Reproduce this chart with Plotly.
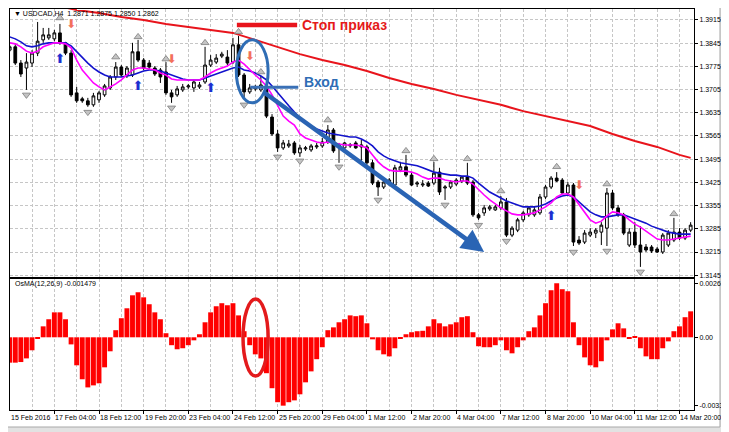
import plotly.graph_objects as go

# ---------------- data ----------------
open_ = [1.3824, 1.3834, 1.3785, 1.3770, 1.3785, 1.3815, 1.3855, 1.3861, 1.3858, 1.3876,
         1.3846, 1.3815, 1.3695, 1.3677, 1.3671, 1.3659, 1.3674, 1.3689, 1.3710, 1.3743,
         1.3773, 1.3749, 1.3749, 1.3819, 1.3794, 1.3785, 1.3770, 1.3764, 1.3758, 1.3695,
         1.3689, 1.3704, 1.3713, 1.3710, 1.3713, 1.3728, 1.3779, 1.3788, 1.3806, 1.3803,
         1.3788, 1.3840, 1.3749, 1.3698, 1.3707, 1.3704, 1.3716, 1.3622, 1.3571, 1.3529,
         1.3535, 1.3544, 1.3514, 1.3526, 1.3523, 1.3532, 1.3535, 1.3547, 1.3583, 1.3532,
         1.3529, 1.3535, 1.3544, 1.3532, 1.3532, 1.3484, 1.3426, 1.3411, 1.3420, 1.3417,
         1.3462, 1.3472, 1.3447, 1.3420, 1.3417, 1.3423, 1.3423, 1.3456, 1.3408, 1.3411,
         1.3420, 1.3429, 1.3441, 1.3426, 1.3327, 1.3333, 1.3345, 1.3342, 1.3348, 1.3366,
         1.3266, 1.3281, 1.3312, 1.3327, 1.3327, 1.3333, 1.3381, 1.3411, 1.3438, 1.3432,
         1.3393, 1.3417, 1.3251, 1.3245, 1.3266, 1.3272, 1.3275, 1.3287, 1.3393, 1.3348,
         1.3327, 1.3236, 1.3275, 1.3236, 1.3230, 1.3230, 1.3224, 1.3215, 1.3236, 1.3251,
         1.3275, 1.3257, 1.3281]
high = [1.3840, 1.3843, 1.3794, 1.3815, 1.3824, 1.3909, 1.3891, 1.3891, 1.3885, 1.3903,
        1.3849, 1.3824, 1.3713, 1.3683, 1.3680, 1.3695, 1.3701, 1.3722, 1.3749, 1.3788,
        1.3779, 1.3776, 1.3846, 1.3855, 1.3800, 1.3794, 1.3776, 1.3770, 1.3788, 1.3704,
        1.3716, 1.3722, 1.3722, 1.3734, 1.3728, 1.3834, 1.3809, 1.3812, 1.3819, 1.3824,
        1.3861, 1.3867, 1.3755, 1.3722, 1.3719, 1.3746, 1.3722, 1.3631, 1.3583, 1.3553,
        1.3553, 1.3550, 1.3538, 1.3535, 1.3541, 1.3544, 1.3559, 1.3598, 1.3589, 1.3544,
        1.3547, 1.3544, 1.3550, 1.3553, 1.3538, 1.3493, 1.3432, 1.3432, 1.3438, 1.3478,
        1.3487, 1.3508, 1.3456, 1.3429, 1.3432, 1.3429, 1.3487, 1.3469, 1.3417, 1.3432,
        1.3438, 1.3444, 1.3484, 1.3432, 1.3333, 1.3357, 1.3357, 1.3357, 1.3384, 1.3378,
        1.3293, 1.3318, 1.3339, 1.3354, 1.3354, 1.3390, 1.3417, 1.3444, 1.3456, 1.3438,
        1.3426, 1.3423, 1.3263, 1.3281, 1.3287, 1.3287, 1.3305, 1.3408, 1.3402, 1.3357,
        1.3333, 1.3287, 1.3305, 1.3293, 1.3239, 1.3236, 1.3230, 1.3272, 1.3281, 1.3318,
        1.3287, 1.3287, 1.3305]
low = [1.3819, 1.3779, 1.3743, 1.3704, 1.3773, 1.3806, 1.3846, 1.3855, 1.3851, 1.3840,
       1.3809, 1.3683, 1.3665, 1.3665, 1.3653, 1.3653, 1.3665, 1.3683, 1.3704, 1.3734,
       1.3743, 1.3740, 1.3743, 1.3788, 1.3764, 1.3764, 1.3746, 1.3725, 1.3689, 1.3665,
       1.3683, 1.3698, 1.3707, 1.3698, 1.3707, 1.3722, 1.3773, 1.3782, 1.3800, 1.3779,
       1.3782, 1.3743, 1.3680, 1.3692, 1.3701, 1.3698, 1.3619, 1.3565, 1.3517, 1.3523,
       1.3529, 1.3508, 1.3502, 1.3520, 1.3517, 1.3526, 1.3529, 1.3541, 1.3514, 1.3484,
       1.3523, 1.3529, 1.3526, 1.3490, 1.3478, 1.3417, 1.3384, 1.3405, 1.3414, 1.3411,
       1.3456, 1.3441, 1.3414, 1.3411, 1.3411, 1.3411, 1.3417, 1.3387, 1.3372, 1.3405,
       1.3414, 1.3423, 1.3417, 1.3321, 1.3312, 1.3324, 1.3339, 1.3339, 1.3342, 1.3260,
       1.3260, 1.3275, 1.3305, 1.3321, 1.3321, 1.3327, 1.3375, 1.3405, 1.3426, 1.3390,
       1.3387, 1.3233, 1.3236, 1.3239, 1.3260, 1.3257, 1.3236, 1.3233, 1.3342, 1.3321,
       1.3266, 1.3230, 1.3227, 1.3170, 1.3215, 1.3212, 1.3212, 1.3209, 1.3230, 1.3245,
       1.3251, 1.3251, 1.3275]
close = [1.3834, 1.3785, 1.3752, 1.3788, 1.3815, 1.3851, 1.3870, 1.3870, 1.3876, 1.3846,
         1.3815, 1.3689, 1.3671, 1.3671, 1.3659, 1.3686, 1.3695, 1.3716, 1.3743, 1.3773,
         1.3749, 1.3770, 1.3819, 1.3794, 1.3770, 1.3773, 1.3752, 1.3743, 1.3695, 1.3683,
         1.3707, 1.3713, 1.3716, 1.3728, 1.3719, 1.3779, 1.3794, 1.3800, 1.3812, 1.3785,
         1.3840, 1.3749, 1.3698, 1.3710, 1.3713, 1.3719, 1.3625, 1.3571, 1.3529, 1.3544,
         1.3541, 1.3514, 1.3529, 1.3529, 1.3535, 1.3535, 1.3547, 1.3583, 1.3520, 1.3538,
         1.3544, 1.3538, 1.3529, 1.3538, 1.3484, 1.3423, 1.3411, 1.3426, 1.3432, 1.3469,
         1.3472, 1.3447, 1.3417, 1.3423, 1.3420, 1.3414, 1.3453, 1.3396, 1.3411, 1.3426,
         1.3432, 1.3441, 1.3423, 1.3327, 1.3318, 1.3348, 1.3351, 1.3351, 1.3366, 1.3266,
         1.3287, 1.3312, 1.3333, 1.3348, 1.3342, 1.3381, 1.3411, 1.3438, 1.3429, 1.3393,
         1.3417, 1.3245, 1.3242, 1.3272, 1.3275, 1.3281, 1.3296, 1.3393, 1.3348, 1.3327,
         1.3272, 1.3275, 1.3236, 1.3215, 1.3221, 1.3218, 1.3215, 1.3266, 1.3272, 1.3275,
         1.3257, 1.3281, 1.3296]

ma_slow = [1.3864, 1.3858, 1.3849, 1.3837, 1.3834, 1.3837, 1.3843, 1.3846, 1.3846, 1.3846,
           1.3846, 1.3837, 1.3819, 1.3800, 1.3785, 1.3770, 1.3758, 1.3749, 1.3743, 1.3743,
           1.3743, 1.3746, 1.3749, 1.3755, 1.3761, 1.3764, 1.3764, 1.3761, 1.3755, 1.3749,
           1.3743, 1.3737, 1.3734, 1.3734, 1.3734, 1.3740, 1.3746, 1.3752, 1.3758, 1.3764,
           1.3770, 1.3773, 1.3764, 1.3761, 1.3755, 1.3746, 1.3734, 1.3716, 1.3695, 1.3674,
           1.3656, 1.3637, 1.3619, 1.3607, 1.3595, 1.3586, 1.3580, 1.3574, 1.3571, 1.3568,
           1.3565, 1.3562, 1.3562, 1.3556, 1.3547, 1.3535, 1.3517, 1.3505, 1.3496, 1.3490,
           1.3484, 1.3481, 1.3478, 1.3475, 1.3469, 1.3462, 1.3456, 1.3453, 1.3450, 1.3447,
           1.3447, 1.3444, 1.3444, 1.3438, 1.3423, 1.3408, 1.3396, 1.3387, 1.3378, 1.3369,
           1.3363, 1.3357, 1.3351, 1.3351, 1.3351, 1.3354, 1.3360, 1.3369, 1.3378, 1.3384,
           1.3387, 1.3381, 1.3366, 1.3351, 1.3336, 1.3327, 1.3321, 1.3321, 1.3324, 1.3327,
           1.3327, 1.3321, 1.3315, 1.3308, 1.3302, 1.3293, 1.3287, 1.3281, 1.3275, 1.3272,
           1.3269, 1.3269, 1.3269]
ma_fast = [1.3846, 1.3843, 1.3834, 1.3821, 1.3815, 1.3821, 1.3834, 1.3840, 1.3846, 1.3846,
           1.3843, 1.3831, 1.3794, 1.3764, 1.3743, 1.3725, 1.3713, 1.3704, 1.3713, 1.3722,
           1.3734, 1.3749, 1.3764, 1.3770, 1.3770, 1.3767, 1.3764, 1.3755, 1.3749, 1.3737,
           1.3734, 1.3734, 1.3734, 1.3734, 1.3734, 1.3743, 1.3755, 1.3764, 1.3770, 1.3776,
           1.3788, 1.3794, 1.3782, 1.3764, 1.3749, 1.3734, 1.3716, 1.3689, 1.3656, 1.3625,
           1.3610, 1.3598, 1.3571, 1.3559, 1.3553, 1.3547, 1.3544, 1.3547, 1.3544, 1.3541,
           1.3538, 1.3538, 1.3538, 1.3535, 1.3529, 1.3508, 1.3487, 1.3472, 1.3462, 1.3459,
           1.3459, 1.3459, 1.3456, 1.3450, 1.3441, 1.3435, 1.3438, 1.3438, 1.3432, 1.3429,
           1.3426, 1.3429, 1.3429, 1.3420, 1.3402, 1.3387, 1.3372, 1.3360, 1.3348, 1.3339,
           1.3330, 1.3327, 1.3327, 1.3330, 1.3333, 1.3342, 1.3351, 1.3363, 1.3381, 1.3390,
           1.3390, 1.3381, 1.3357, 1.3333, 1.3312, 1.3302, 1.3308, 1.3324, 1.3336, 1.3333,
           1.3327, 1.3312, 1.3299, 1.3290, 1.3278, 1.3266, 1.3254, 1.3251, 1.3251, 1.3254,
           1.3257, 1.3260, 1.3263]

ma_long_idx = [8, 12, 16, 20, 24, 28, 32, 36, 40, 44, 48, 52, 56, 60, 64, 68, 72, 76,
               80, 84, 88, 92, 96, 100, 104, 108, 112, 116, 120, 122]
ma_long = [1.3960, 1.3945, 1.3936, 1.3924, 1.3915, 1.3903, 1.3894, 1.3885, 1.3876, 1.3855,
           1.3834, 1.3812, 1.3794, 1.3779, 1.3761, 1.3740, 1.3722, 1.3707, 1.3689, 1.3674,
           1.3659, 1.3640, 1.3625, 1.3610, 1.3595, 1.3571, 1.3550, 1.3532, 1.3508, 1.3499]

osma = [-0.00125, -0.00125, -0.00122, -0.00104, -0.00064, -0.00005, 0.00054, 0.00089, 0.00123, 0.00123,
        0.00089, -0.00035, -0.00138, -0.00207, -0.00247, -0.00237, -0.00227, -0.00148, -0.00069, 0.00035,
        0.00094, 0.00143, 0.00207, 0.00222, 0.00197, 0.00163, 0.00123, 0.00089, 0.00020, -0.00039,
        -0.00059, -0.00054, -0.00039, -0.00015, 0.00015, 0.00074, 0.00123, 0.00153, 0.00168, 0.00158,
        0.00168, 0.00108, 0.00030, -0.00039, -0.00084, -0.00104, -0.00177, -0.00251, -0.00320, -0.00337,
        -0.00320, -0.00311, -0.00281, -0.00222, -0.00168, -0.00108, -0.00049, 0.00035, 0.00049, 0.00074,
        0.00089, 0.00108, 0.00104, 0.00108, 0.00069, -0.00010, -0.00064, -0.00084, -0.00094, -0.00054,
        -0.00005, 0.00015, 0.00025, 0.00030, 0.00032, 0.00054, 0.00089, 0.00069, 0.00054, 0.00064,
        0.00074, 0.00099, 0.00104, 0.00025, -0.00044, -0.00049, -0.00049, -0.00039, -0.00015, -0.00064,
        -0.00079, -0.00049, -0.00015, 0.00030, 0.00049, 0.00108, 0.00168, 0.00232, 0.002664, 0.00237,
        0.00227, 0.00074, -0.00039, -0.00099, -0.00138, -0.00148, -0.00118, -0.00015, 0.00039, 0.00069,
        0.00044, -0.00005, 0.00005, -0.00054, -0.00094, -0.00108, -0.00108, -0.00054, -0.00020, 0.00030,
        0.00054, 0.00099, 0.00128]

fractal_up_idx = [9, 19, 23, 28, 35, 41, 45, 57, 71, 76, 82, 88, 98, 107, 119]
fractal_up = [1.3921, 1.3803, 1.3864, 1.3797, 1.3846, 1.3879, 1.3758, 1.3613, 1.3520, 1.3496,
              1.3496, 1.3399, 1.3472, 1.3420, 1.3330]
fractal_dn_idx = [3, 14, 29, 42, 48, 52, 59, 66, 78, 84, 89, 101, 107, 113]
fractal_dn = [1.3689, 1.3637, 1.3650, 1.3659, 1.3502, 1.3490, 1.3472, 1.3372, 1.3357, 1.3296,
              1.3248, 1.3215, 1.3218, 1.3155]

sell_idx = [11, 29, 43, 102]
sell_level = [1.3900, 1.3794, 1.3803, 1.3414]
buy_idx = [9, 23, 36, 97]
buy_level = [1.3794, 1.3713, 1.3707, 1.3321]

price_ticks = [1.3915, 1.3845, 1.3775, 1.3705, 1.3635, 1.3565, 1.3495, 1.3425, 1.3355,
               1.3285, 1.3215, 1.3145]
osma_ticks = [0.002664, 0.0, -0.00337]
osma_ticktext = ["0.002664", "0.00", "-0.00337"]

x_labels = ["15 Feb 2016", "17 Feb 04:00", "18 Feb 12:00", "19 Feb 20:00", "23 Feb 04:00",
            "24 Feb 12:00", "25 Feb 20:00", "29 Feb 04:00", "1 Mar 12:00", "2 Mar 20:00",
            "4 Mar 04:00", "7 Mar 12:00", "8 Mar 20:00", "10 Mar 04:00", "11 Mar 12:00",
            "14 Mar 20:00"]
x_label_idx = list(range(0, 8 * len(x_labels), 8))

stop_level = 1.3900
entry_level = 1.3712
header_text = "▼ USDCAD,H4  1.2871 1.2875 1.2850 1.2862"
osma_title = "OsMA(12,26,9) -0.001479"

# ---------------- figure ----------------
idx = list(range(len(close)))
FONT = "Liberation Sans, Arial, sans-serif"
GRID = "#c6c6c6"
x_range = [0.054, 122.6]

fig = go.Figure()

fig.add_trace(go.Scatter(x=ma_long_idx, y=ma_long, mode="lines",
                         line=dict(color="#e8141c", width=2), hoverinfo="skip",
                         xaxis="x", yaxis="y"))
fig.add_trace(go.Candlestick(x=idx, open=open_, high=high, low=low, close=close,
                             increasing=dict(line=dict(color="#000000", width=1), fillcolor="#ffffff"),
                             decreasing=dict(line=dict(color="#000000", width=1), fillcolor="#000000"),
                             whiskerwidth=0, xaxis="x", yaxis="y"))
fig.add_trace(go.Scatter(x=list(range(len(ma_slow))), y=ma_slow, mode="lines",
                         line=dict(color="#1212cc", width=1.6), xaxis="x", yaxis="y"))
fig.add_trace(go.Scatter(x=list(range(len(ma_fast))), y=ma_fast, mode="lines",
                         line=dict(color="#ff00ff", width=1.6), xaxis="x", yaxis="y"))

fig.add_trace(go.Scatter(x=fractal_up_idx, y=fractal_up, mode="markers",
                         marker=dict(symbol="triangle-up", size=7, color="#c4c4c4",
                                     line=dict(color="#7c7c7c", width=0.8)),
                         xaxis="x", yaxis="y"))
fig.add_trace(go.Scatter(x=fractal_dn_idx, y=fractal_dn, mode="markers",
                         marker=dict(symbol="triangle-down", size=7, color="#c4c4c4",
                                     line=dict(color="#7c7c7c", width=0.8)),
                         xaxis="x", yaxis="y"))

fig.add_trace(go.Scatter(x=sell_idx, y=sell_level, mode="text", text=["⬇"] * len(sell_idx),
                         textfont=dict(family="DejaVu Sans", size=12, color="#f3705c"),
                         xaxis="x", yaxis="y"))
fig.add_trace(go.Scatter(x=buy_idx, y=buy_level, mode="text", text=["⬆"] * len(buy_idx),
                         textfont=dict(family="DejaVu Sans", size=13, color="#1c2fd0"),
                         xaxis="x", yaxis="y"))

fig.add_trace(go.Bar(x=list(range(len(osma))), y=osma,
                     marker=dict(color="#ff0000", line=dict(width=0)),
                     xaxis="x2", yaxis="y2"))

xcommon = dict(range=x_range, tickmode="array", tickvals=x_label_idx, showticklabels=False,
               showgrid=True, gridcolor=GRID, griddash="3px,2px", gridwidth=1,
               minor=dict(tickmode="array", tickvals=list(range(0, 124, 4)), showgrid=True,
                          gridcolor=GRID, griddash="3px,2px", gridwidth=1, ticks=""),
               showline=True, mirror=True, linecolor="#000000", linewidth=1, zeroline=False,
               fixedrange=True)

# the page shows the figure 8 px in from the window corner, so the figure is sized to fit
fig.update_layout(
    width=721, height=424,
    margin=dict(l=2, r=35, t=1, b=22),
    paper_bgcolor="#e2e2e2", plot_bgcolor="#ffffff",
    showlegend=False, bargap=0.12,
    font=dict(family=FONT, size=7, color="#000000"),
    xaxis=dict(domain=[0, 1], anchor="y", ticks="", rangeslider=dict(visible=False), **xcommon),
    yaxis=dict(domain=[0.3317, 1], anchor="x", side="right", range=[1.31396, 1.39481],
               tickmode="array", tickvals=price_ticks,
               ticktext=[f"{v:.4f}" for v in price_ticks],
               ticks="outside", ticklen=3, tickcolor="#000000",
               tickfont=dict(family=FONT, size=7, color="#000000"),
               showgrid=True, gridcolor=GRID, griddash="3px,2px", gridwidth=1,
               showline=True, mirror=True, linecolor="#000000", zeroline=False, fixedrange=True),
    xaxis2=dict(domain=[0, 1], anchor="y2", ticks="outside", ticklen=3, tickcolor="#000000",
                **xcommon),
    yaxis2=dict(domain=[0, 0.3267], anchor="x2", side="right", range=[-0.003584, 0.002874],
                tickmode="array", tickvals=osma_ticks, ticktext=osma_ticktext,
                ticks="outside", ticklen=3, tickcolor="#000000",
                tickfont=dict(family=FONT, size=7, color="#000000"),
                showgrid=False, showline=True, mirror=True, linecolor="#000000",
                zeroline=False, fixedrange=True),
)

shapes = [
    # window frame
    dict(type="rect", xref="paper", yref="paper", x0=-0.01, x1=1.038, y0=-0.0424, y1=1.01,
         fillcolor="#ffffff", line=dict(color="#a8a8a8", width=1), layer="below"),
    # stop order
    dict(type="line", xref="x", yref="y", x0=40.7, x1=51.5, y0=stop_level, y1=stop_level,
         line=dict(color="#e8141c", width=4.5)),
    # entry
    dict(type="line", xref="x", yref="y", x0=43.1, x1=51.7, y0=entry_level, y1=entry_level,
         line=dict(color="#3a70b6", width=3)),
    dict(type="circle", xref="x", yref="y", x0=40.6, x1=46.3, y0=1.3665, y1=1.3855,
         line=dict(color="#2f6db5", width=3)),
    # OsMA ellipse
    dict(type="circle", xref="x2", yref="y2", x0=41.8, x1=46.3, y0=-0.00191, y1=0.00189,
         line=dict(color="#e31a1c", width=3.5)),
]

annotations = [
    dict(text=header_text, xref="paper", yref="paper", x=0.003, y=0.9888, xanchor="left",
         yanchor="middle", showarrow=False, font=dict(family=FONT, size=7, color="#000000")),
    dict(text=osma_title, xref="paper", yref="paper", x=0.0044, y=0.313, xanchor="left",
         yanchor="middle", showarrow=False, font=dict(family=FONT, size=7, color="#000000")),
    dict(text="<b>Стоп приказ</b>", xref="x", yref="y", x=52.0, y=stop_level, xanchor="left",
         yanchor="middle", showarrow=False, font=dict(family=FONT, size=14, color="#e51a1a")),
    dict(text="<b>Вход</b>", xref="x", yref="y", x=52.3, y=1.3728, xanchor="left",
         yanchor="middle", showarrow=False, font=dict(family=FONT, size=14, color="#2f6db5")),
    dict(text="", xref="x", yref="y", x=85.0, y=1.3215, axref="x", ayref="y", ax=45.2,
         ay=1.3701, showarrow=True, arrowhead=2, arrowsize=1.0, arrowwidth=4.5,
         arrowcolor="#2a64b4"),
]
for lab, xi in zip(x_labels, x_label_idx):
    annotations.append(dict(text=lab, xref="x2", yref="paper", x=max(xi, 0.1), y=-0.01995,
                            xanchor="left", yanchor="middle", xshift=-1, showarrow=False,
                            font=dict(family=FONT, size=7, color="#000000")))

fig.update_layout(shapes=shapes, annotations=annotations)
fig.write_html("out.html")
